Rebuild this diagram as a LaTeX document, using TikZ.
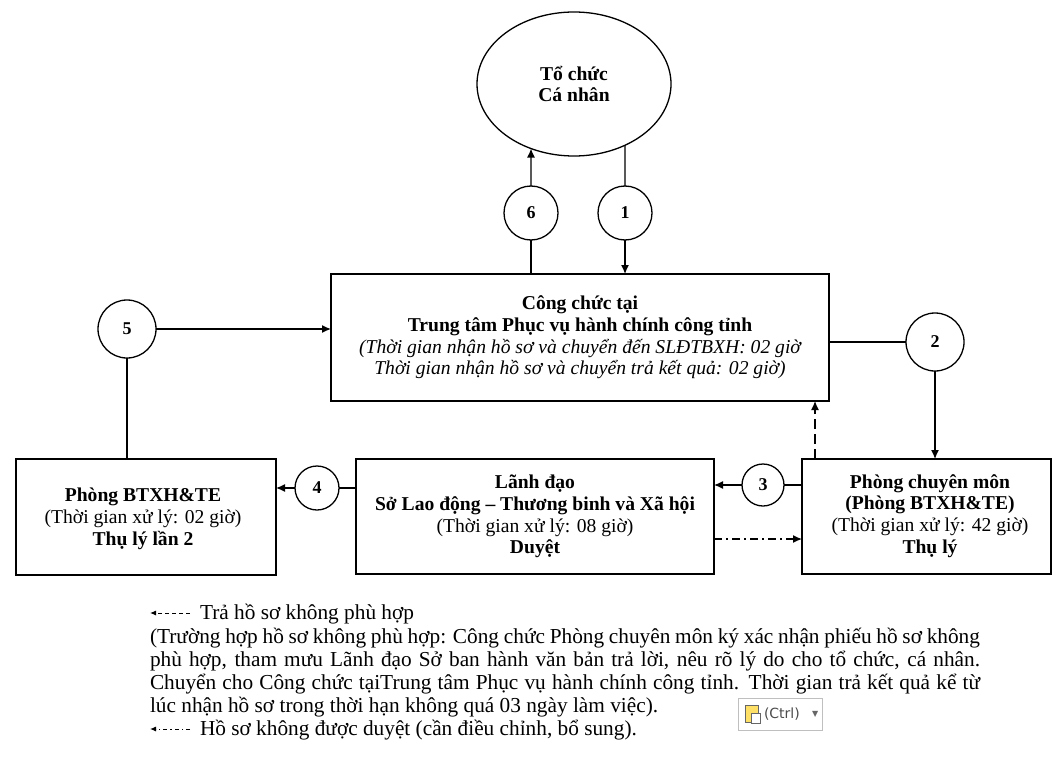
\documentclass[tikz,border=0pt]{standalone}
\usepackage{fontspec}
\setmainfont{Liberation Serif}
\newfontfamily\uisans{DejaVu Sans}
\usetikzlibrary{arrows.meta,shapes.geometric,calc,intersections,backgrounds}
\begin{document}
\begin{tikzpicture}[x=1pt,y=-1pt,
  every node/.style={inner sep=0pt,outer sep=0pt},
  boxst/.style={draw,line width=1.5pt,rectangle,fill=white},
  circst/.style={draw,line width=1.3pt,circle,fill=white,font=\fontsize{18}{20}\selectfont\bfseries},
  conn/.style={line width=1.3pt},
  arr/.style={line width=1.3pt,-{Latex[length=9pt,width=8pt]}},
  dfont/.style={font=\fontsize{19.6}{21.8}\selectfont},
  lfont/.style={font=\fontsize{21.3}{23}\selectfont}
]
\useasboundingbox (0,0) rectangle (1056,762);
% ellipse
\node[draw,line width=1.3pt,ellipse,fill=white,minimum width=194pt,minimum height=144pt,name path=ellp,align=center,dfont] (ell) at (574,84) {\bfseries Tổ chức\\\bfseries Cá nhân};
% boxes
\node[boxst,minimum width=498pt,minimum height=127pt,align=center,dfont] (main) at (580,337.5)
 {\bfseries Công chức tại\\
  \bfseries Trung tâm Phục vụ hành chính công tỉnh\\
  \itshape (Thời gian nhận hồ sơ và chuyển đến SLĐTBXH: 02 giờ\\
  \itshape Thời gian nhận hồ sơ và chuyển trả kết quả: 02 giờ)};
\node[boxst,minimum width=358pt,minimum height=115pt,align=center,dfont] (mbox) at (535,516.5)
 {\bfseries Lãnh đạo\\
  \bfseries Sở Lao động – Thương binh và Xã hội\\
  (Thời gian xử lý: 08 giờ)\\
  \bfseries Duyệt};
\node[boxst,minimum width=249pt,minimum height=115pt,dfont] (rbox) at (926.5,516.5) {};
\node[align=center,dfont] (rtext) at (930,516)
 {\bfseries Phòng chuyên môn\\
  \bfseries (Phòng BTXH\&TE)\\
  (Thời gian xử lý: 42 giờ)\\
  \bfseries Thụ lý};
\node[boxst,minimum width=260pt,minimum height=116pt,dfont] (lbox) at (146,517) {};
\node[align=center,dfont] (ltext) at (143,519)
 {\bfseries Phòng BTXH\&TE\\
  (Thời gian xử lý: 02 giờ)\\
  \bfseries Thụ lý lần 2};
% circles
\node[circst,minimum size=54pt] (c6) at (531,213) {6};
\node[circst,minimum size=54pt] (c1) at (625,213) {1};
\node[circst,minimum size=58pt] (c5) at (127,329) {5};
\node[circst,minimum size=58pt] (c2) at (935,342) {2};
\node[circst,minimum size=42pt] (c3) at (763,485) {3};
\node[circst,minimum size=44pt] (c4) at (317,488) {4};
% intersections with the lower border of the ellipse
\path[name path=v6] (c6.center) -- ($(c6.center)+(0,-100)$);
\path[name path=v1] (c1.center) -- ($(c1.center)+(0,-100)$);
\path[name intersections={of=ellp and v6,by=e6}];
\path[name intersections={of=ellp and v1,by=e1}];
% connectors
\draw[arr] (c6.north) -- (e6);
\draw[conn] (main.north -| c6) -- (c6.south);
\draw[conn] (e1) -- (c1.north);
\draw[arr] (c1.south) -- (c1.south |- main.north);
\draw[arr] (c5.east) -- (c5.east -| main.west);
\draw[conn] (lbox.north -| c5) -- (c5.south);
\draw[conn] (main.east |- c2) -- (c2.west);
\draw[arr] (c2.south) -- (c2.south |- rbox.north);
\coordinate (dtop) at ($(rbox.north west)+(13,0)$);
\draw[arr,dash pattern=on 10pt off 5pt] (dtop) -- (dtop |- main.south);
\draw[conn] (rbox.west |- c3) -- (c3.east);
\draw[arr] (c3.west) -- (c3.west -| mbox.east);
\coordinate (ddst) at ($(mbox.east)+(0,22.5)$);
\draw[arr,dash pattern=on 8pt off 4pt on 2pt off 4pt] (ddst) -- (ddst -| rbox.west);
\draw[conn] (mbox.west |- c4) -- (c4.east);
\draw[arr] (c4.west) -- (c4.west -| lbox.east);
% legend
\coordinate (la1) at (190,613);
\coordinate (lb1) at (150,613);
\draw[line width=1pt,dash pattern=on 4pt off 3pt,-{Latex[length=6pt,width=5pt]}] (la1) -- (lb1);
\node[anchor=base west,lfont] (lt1) at (200,619) {Trả hồ sơ không phù hợp};
\node[anchor=base west,lfont] (p1) at (150,643) {\makebox[830pt][s]{(Trường hợp hồ sơ không phù hợp: Công chức Phòng chuyên môn ký xác nhận phiếu hồ sơ không}};
\node[anchor=base west,lfont] (p2) at (150,666) {\makebox[830pt][s]{phù hợp, tham mưu Lãnh đạo Sở ban hành văn bản trả lời, nêu rõ lý do cho tổ chức, cá nhân.}};
\node[anchor=base west,lfont] (p3) at (150,689) {\makebox[830pt][s]{Chuyển cho Công chức tạiTrung tâm Phục vụ hành chính công tỉnh. Thời gian trả kết quả kể từ}};
\node[anchor=base west,lfont] (p4) at (150,712) {lúc nhận hồ sơ trong thời hạn không quá 03 ngày làm việc).};
\coordinate (la2) at (190,729);
\coordinate (lb2) at (150,729);
\draw[line width=1pt,dash pattern=on 4pt off 3pt on 1.5pt off 3pt,-{Latex[length=6pt,width=5pt]}] (la2) -- (lb2);
\node[anchor=base west,lfont] (lt2) at (200,735) {Hồ sơ không được duyệt (cần điều chỉnh, bổ sung).};
% paste options icon
\node[draw=black!25,line width=0.8pt,fill=white,minimum width=84pt,minimum height=32pt] (ctrl) at (780,714) {};
\node[draw=black!60,fill=orange!40!yellow!60,line width=0.8pt,minimum width=13pt,minimum height=17pt] (clip) at (752,714) {};
\node[draw=black!60,fill=white,line width=0.6pt,minimum width=9pt,minimum height=10pt] (page) at (756,718) {};
\node[anchor=west,font=\uisans\fontsize{14}{16}\selectfont,text=black!70] (ctxt) at (764,714) {(Ctrl)};
\node[anchor=west,font=\uisans\fontsize{8}{10}\selectfont,text=black!60] (carr) at (812,714) {▼};
\end{tikzpicture}
\end{document}
